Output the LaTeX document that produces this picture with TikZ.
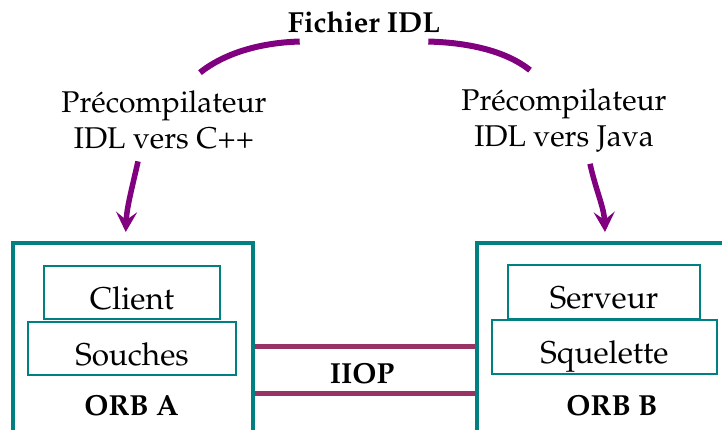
\documentclass[tikz,border=0pt]{standalone}
\usepackage[T1]{fontenc}
\renewcommand{\rmdefault}{ppl}
\usetikzlibrary{arrows.meta}
\definecolor{tealc}{HTML}{008080}
\definecolor{arcc}{HTML}{800080}
\definecolor{iiopc}{HTML}{993366}
\begin{document}
\begin{tikzpicture}[x=1pt,y=-1pt,
  every node/.style={inner sep=0pt, font=\fontsize{30}{36}\selectfont},
  bflabel/.style={font=\fontsize{29}{36}\selectfont\bfseries},
  orbbox/.style={draw=tealc, line width=3.5pt, rectangle, anchor=north west},
  innerbox/.style={draw=tealc, line width=1.7pt, rectangle, text height=33pt, text depth=0pt, font=\fontsize{31.5}{36}\selectfont},
  arcline/.style={draw=arcc, line width=6pt},
  arrowline/.style={draw=arcc, line width=5.5pt, -{Stealth[length=20pt,width=21pt,inset=8pt]}},
  iiopline/.style={draw=iiopc, line width=5pt}]
\useasboundingbox (0,0) rectangle (722,429);
\node[bflabel, anchor=base] (fichier) at (364,32) {Fichier IDL};
\node[align=center] (pcpp) at (164,120) {Pr\'ecompilateur\\IDL vers C++};
\node[align=center] (pjava) at (564,120) {Pr\'ecompilateur\\IDL vers Java};
\node[orbbox, minimum width=240pt, minimum height=215pt] (orbA) at (11,241) {};
\node[orbbox, minimum width=270pt, minimum height=215pt] (orbB) at (475,241) {};
\node[innerbox, minimum width=176pt, minimum height=53pt] (client) at (132,292.5) {Client};
\node[innerbox, minimum width=208pt, minimum height=53pt] (souches) at (132,348.5) {Souches};
\node[innerbox, minimum width=192pt, minimum height=54pt] (serveur) at (604,292) {Serveur};
\node[innerbox, minimum width=225pt, minimum height=54pt] (squelette) at (604.5,347) {Squelette};
\node[bflabel, anchor=base] (labA) at (131.5,415) {ORB A};
\node[bflabel, anchor=base] (labB) at (612,415) {ORB B};
\node[bflabel, anchor=base] (iiop) at (362,383) {IIOP};
\draw[iiopline] ([yshift=-105pt]orbA.north east) -- ([yshift=-105pt]orbB.north west);
\draw[iiopline] ([yshift=-152pt]orbA.north east) -- ([yshift=-152pt]orbB.north west);
\draw[arcline] ([xshift=12pt,yshift=-9pt]fichier.south west) .. controls +(-38,1) and +(25,-20) .. ([xshift=36pt,yshift=18pt]pcpp.north);
\draw[arcline] ([xshift=-12pt,yshift=-9pt]fichier.south east) .. controls +(38,1) and +(-25,-20) .. ([xshift=-34pt,yshift=18pt]pjava.north);
\draw[arrowline] ([xshift=-26pt,yshift=-12pt]pcpp.south) .. controls +(-6,27) and +(1,-25) .. ([xshift=-7pt,yshift=9pt]orbA.north);
\draw[arrowline] ([xshift=26pt,yshift=-12pt]pjava.south) .. controls +(6,27) and +(-1,-25) .. ([xshift=130pt,yshift=9pt]orbB.north west);
\end{tikzpicture}
\end{document}
